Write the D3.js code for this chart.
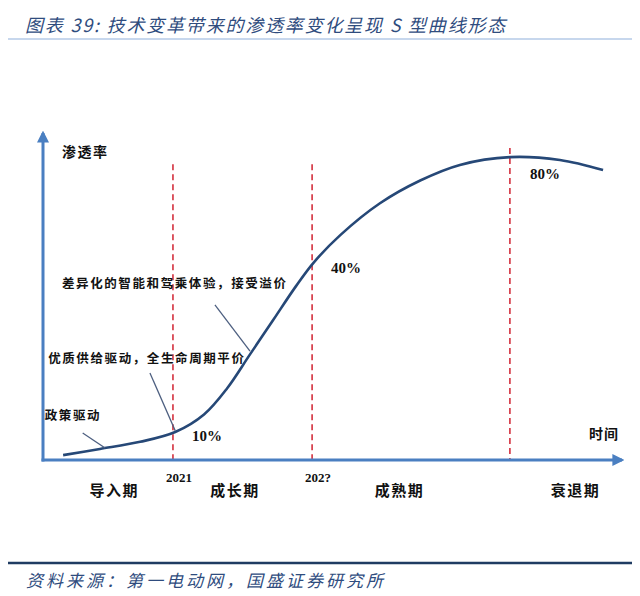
<!DOCTYPE html>
<html>
<head>
<meta charset="utf-8">
<script src="https://cdn.jsdelivr.net/npm/d3@7"></script>
<style>
  body { margin: 0; background: #fff; }
  svg { display: block; }
</style>
</head>
<body>
<svg id="chart" width="640" height="596"></svg>
<script>
// S-curve, time index (0-100) vs. penetration index (0-100)
const curveTime = [3.5, 9.9, 16.9, 23, 28, 32, 36, 40, 44, 47, 51.7, 58.6, 65.6, 72.5, 81.2, 89.9, 97.4];
const curvePen = [1.5, 3.4, 5.6, 8.6, 14, 22, 32.5, 43, 53.5, 60.6, 69.2, 79, 86, 90.8, 93.2, 92.3, 89.2];

const stageTimes = [22.6, 46.8, 81.2];
const stageTops = [91, 91, 96];
const stageYears = ["2021", "202?", ""];
const stageNames = ["导入期", "成长期", "成熟期", "衰退期"];
const stageNameTimes = [12.4, 33.4, 62, 92.6];

const pctLabels = ["10%", "40%", "80%"];
const pctTimes = [28.5, 52.7, 87.3];
const pctPens = [6, 57.5, 86.5];

const notes = ["差异化的智能和驾乘体验，接受溢价", "优质供给驱动，全生命周期平价", "政策驱动"];
const noteTimes = [3.3, 0.9, 0.3];
const notePens = [53, 30, 12.3];
// leader lines: [t1, p1, t2, p2]
const leaders = [
  [29.9, 47.7, 36, 33.5],
  [18.6, 26.8, 23, 9],
  [6.9, 8.3, 10.8, 3.7],
];

const svg = d3.select("#chart");
const x = d3.scaleLinear().domain([0, 100]).range([43, 618]);
const y = d3.scaleLinear().domain([0, 100]).range([460, 135]);

// header
svg.append("text")
  .attr("x", 25).attr("y", 32)
  .attr("font-family", "Noto Sans CJK SC")
  .attr("font-style", "italic")
  .attr("font-size", 18)
  .attr("letter-spacing", 1.8)
  .attr("fill", "#2f4c7e")
  .text("图表 39:  技术变革带来的渗透率变化呈现 S 型曲线形态");

svg.append("line")
  .attr("x1", 8).attr("x2", 632).attr("y1", 39).attr("y2", 39)
  .attr("stroke", "#8fb0dc").attr("stroke-width", 1.2);

svg.append("line")
  .attr("x1", 8).attr("x2", 632).attr("y1", 563).attr("y2", 563)
  .attr("stroke", "#1f3c62").attr("stroke-width", 2.4);

svg.append("text")
  .attr("x", 26).attr("y", 587)
  .attr("font-family", "Noto Sans CJK SC")
  .attr("font-style", "italic")
  .attr("font-size", 17)
  .attr("letter-spacing", 3)
  .attr("fill", "#2f4c7e")
  .text("资料来源：第一电动网，国盛证券研究所");

// arrow marker
svg.append("defs").append("marker")
  .attr("id", "arrow")
  .attr("viewBox", "0 0 10 10")
  .attr("refX", 8).attr("refY", 5)
  .attr("markerWidth", 4).attr("markerHeight", 4)
  .attr("orient", "auto")
  .append("path")
  .attr("d", "M0,0L10,5L0,10Z")
  .attr("fill", "#4a7fc1");

// stage dashed lines
svg.selectAll(".stage")
  .data(stageTimes)
  .join("line")
  .attr("class", "stage")
  .attr("x1", (d) => x(d)).attr("x2", (d) => x(d))
  .attr("y1", (d, i) => y(stageTops[i])).attr("y2", y(0))
  .attr("stroke", "#d3303e")
  .attr("stroke-width", 1.6)
  .attr("stroke-dasharray", "6,4");

// axes
svg.append("line")
  .attr("x1", x(0)).attr("x2", x(0))
  .attr("y1", y(0) + 1.5).attr("y2", y(100) - 2)
  .attr("stroke", "#4a7fc1").attr("stroke-width", 3)
  .attr("marker-end", "url(#arrow)");

svg.append("line")
  .attr("x1", x(0) - 1.5).attr("x2", x(100) + 4)
  .attr("y1", y(0)).attr("y2", y(0))
  .attr("stroke", "#4a7fc1").attr("stroke-width", 3)
  .attr("marker-end", "url(#arrow)");

// S curve
const line = d3.line()
  .x((d) => x(d[0]))
  .y((d) => y(d[1]))
  .curve(d3.curveCatmullRom);

svg.append("path")
  .datum(curveTime.map((t, i) => [t, curvePen[i]]))
  .attr("d", line)
  .attr("fill", "none")
  .attr("stroke", "#264877")
  .attr("stroke-width", 2.6);

// leader lines
svg.selectAll(".leader")
  .data(leaders)
  .join("line")
  .attr("class", "leader")
  .attr("x1", (d) => x(d[0])).attr("y1", (d) => y(d[1]))
  .attr("x2", (d) => x(d[2])).attr("y2", (d) => y(d[3]))
  .attr("stroke", "#4d5f80")
  .attr("stroke-width", 1.3);

// notes
svg.selectAll(".note")
  .data(notes)
  .join("text")
  .attr("class", "note")
  .attr("x", (d, i) => x(noteTimes[i]))
  .attr("y", (d, i) => y(notePens[i]))
  .attr("font-family", "Noto Sans CJK SC")
  .attr("font-weight", "bold")
  .attr("font-size", 12.5)
  .attr("letter-spacing", 1.6)
  .attr("fill", "#111")
  .text((d) => d);

// axis titles
svg.append("text")
  .attr("x", 62).attr("y", 157)
  .attr("font-family", "Noto Sans CJK SC")
  .attr("font-weight", "bold")
  .attr("font-size", 14)
  .attr("letter-spacing", 1.5)
  .attr("fill", "#111")
  .text("渗透率");

svg.append("text")
  .attr("x", 589).attr("y", 439)
  .attr("font-family", "Noto Sans CJK SC")
  .attr("font-weight", "bold")
  .attr("font-size", 14)
  .attr("letter-spacing", 1)
  .attr("fill", "#111")
  .text("时间");

// percentage labels
svg.selectAll(".pct")
  .data(pctLabels)
  .join("text")
  .attr("class", "pct")
  .attr("x", (d, i) => x(pctTimes[i]))
  .attr("y", (d, i) => y(pctPens[i]))
  .attr("text-anchor", "middle")
  .attr("font-family", "Liberation Serif")
  .attr("font-weight", "bold")
  .attr("font-size", 15)
  .attr("fill", "#111")
  .text((d) => d);

// year labels
svg.selectAll(".year")
  .data(stageYears)
  .join("text")
  .attr("class", "year")
  .attr("x", (d, i) => x(stageTimes[i]) + 6)
  .attr("y", 482)
  .attr("text-anchor", "middle")
  .attr("font-family", "Liberation Serif")
  .attr("font-weight", "bold")
  .attr("font-size", 13)
  .attr("fill", "#111")
  .text((d) => d);

// stage names
svg.selectAll(".sname")
  .data(stageNames)
  .join("text")
  .attr("class", "sname")
  .attr("x", (d, i) => x(stageNameTimes[i]))
  .attr("y", 496)
  .attr("text-anchor", "middle")
  .attr("font-family", "Noto Sans CJK SC")
  .attr("font-weight", "bold")
  .attr("font-size", 15)
  .attr("letter-spacing", 1.5)
  .attr("fill", "#111")
  .text((d) => d);
</script>
</body>
</html>
